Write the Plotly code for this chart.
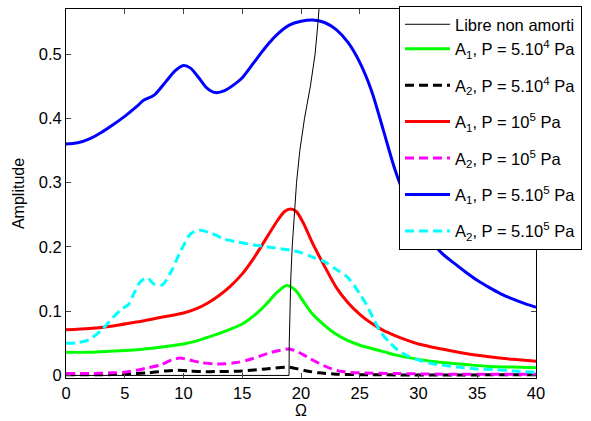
import plotly.graph_objects as go

# ---- data ----
# Libre non amorti (undamped backbone)
libre_omega = [0, 18.98, 19.0, 19.05, 19.13, 19.25, 19.42, 19.62, 19.9, 20.3, 20.8, 21.2, 21.45, 21.65]
libre_amp = [0, 0, 0.05, 0.1, 0.15, 0.2, 0.25, 0.3, 0.35, 0.4, 0.45, 0.5, 0.55, 0.6]

# A1, P = 5.10^4 Pa (green)
g_omega = [0, 2, 4, 6, 8, 10, 11, 12, 13, 14, 15, 16, 17, 18, 18.8, 19.5, 20.2, 21, 22, 23, 24, 25, 26, 27, 28, 30, 32, 34, 36, 38, 40]
g_amp = [0.036, 0.036, 0.038, 0.040, 0.044, 0.049, 0.053, 0.059, 0.065, 0.072, 0.080, 0.093, 0.110, 0.130, 0.140, 0.133, 0.115, 0.095, 0.078, 0.064, 0.054, 0.047, 0.042, 0.037, 0.032, 0.025, 0.020, 0.017, 0.014, 0.013, 0.012]

# A2, P = 5.10^4 Pa (black dashed)
k_omega = [0, 3, 5, 7, 8.5, 9.5, 10.5, 11.5, 13, 15, 17, 18.9, 19.5, 20.5, 21.5, 23, 26, 40]
k_amp = [0.001, 0.001, 0.002, 0.004, 0.007, 0.008, 0.007, 0.006, 0.006, 0.007, 0.010, 0.013, 0.011, 0.007, 0.004, 0.002, 0.001, 0.001]

# A1, P = 10^5 Pa (red)
r_omega = [0, 2, 4, 6, 8, 10, 11, 12, 13, 14, 15, 16, 17, 18, 18.6, 19.1, 19.6, 20.2, 21, 22, 23, 24, 25, 26, 27, 28, 29, 30, 32, 34, 36, 38, 40]
r_amp = [0.071, 0.073, 0.077, 0.083, 0.090, 0.097, 0.103, 0.112, 0.124, 0.139, 0.158, 0.183, 0.212, 0.241, 0.255, 0.259, 0.255, 0.237, 0.205, 0.170, 0.137, 0.113, 0.095, 0.081, 0.070, 0.062, 0.055, 0.049, 0.041, 0.034, 0.029, 0.025, 0.022]

# A2, P = 10^5 Pa (magenta dashed)
m_omega = [0, 2, 4, 5, 6, 7, 8, 9, 9.7, 10.5, 11.5, 12.5, 13.5, 14.5, 15.5, 16.5, 17.5, 18.5, 19, 19.7, 20.5, 21.5, 22.5, 23.5, 25, 28, 32, 40]
m_amp = [0.003, 0.003, 0.004, 0.005, 0.008, 0.012, 0.016, 0.024, 0.027, 0.024, 0.020, 0.018, 0.018, 0.020, 0.024, 0.030, 0.036, 0.040, 0.041, 0.037, 0.029, 0.019, 0.011, 0.006, 0.004, 0.003, 0.002, 0.002]

# A1, P = 5.10^5 Pa (blue)
b_omega = [0, 1, 2, 3, 4, 5, 6, 6.6, 7.5, 8.5, 9.3, 10, 10.6, 11.3, 12, 12.7, 13.5, 14.5, 15, 16, 17, 18, 19, 20, 21, 22, 23, 24, 25, 26, 27, 28, 29, 30, 31, 32, 33, 34, 35, 36, 37, 38, 39, 40]
b_amp = [0.360, 0.362, 0.368, 0.378, 0.390, 0.403, 0.418, 0.428, 0.436, 0.457, 0.474, 0.482, 0.478, 0.463, 0.447, 0.440, 0.443, 0.455, 0.463, 0.487, 0.511, 0.531, 0.545, 0.551, 0.553, 0.549, 0.538, 0.518, 0.487, 0.443, 0.382, 0.320, 0.272, 0.237, 0.210, 0.190, 0.175, 0.161, 0.148, 0.137, 0.127, 0.119, 0.112, 0.106]

# A2, P = 5.10^5 Pa (cyan dashed)
c_omega = [0, 1, 2, 3, 4, 4.8, 5.3, 5.8, 6.3, 6.9, 7.5, 8.2, 8.9, 9.7, 10.6, 11.4, 12.4, 13.5, 14.5, 16, 17.5, 19, 20, 21, 22, 23, 24, 25, 25.6, 26.2, 26.8, 27.5, 28.2, 29, 30, 31, 32, 33.3, 35, 36.5, 38, 40]
c_amp = [0.050, 0.051, 0.056, 0.070, 0.090, 0.104, 0.110, 0.128, 0.145, 0.152, 0.142, 0.141, 0.160, 0.191, 0.220, 0.226, 0.221, 0.212, 0.208, 0.203, 0.199, 0.195, 0.191, 0.184, 0.177, 0.165, 0.152, 0.127, 0.109, 0.087, 0.067, 0.052, 0.040, 0.031, 0.024, 0.019, 0.016, 0.013, 0.010, 0.009, 0.007, 0.005]

x_ticks = [0, 5, 10, 15, 20, 25, 30, 35, 40]
y_ticks = [0, 0.1, 0.2, 0.3, 0.4, 0.5]
y_tick_labels = ["0", "0.1", "0.2", "0.3", "0.4", "0.5"]

names = [
    "Libre non amorti",
    "A<sub>1</sub>, P = 5.10<sup>4</sup> Pa",
    "A<sub>2</sub>, P = 5.10<sup>4</sup> Pa",
    "A<sub>1</sub>, P = 10<sup>5</sup> Pa",
    "A<sub>2</sub>, P = 10<sup>5</sup> Pa",
    "A<sub>1</sub>, P = 5.10<sup>5</sup> Pa",
    "A<sub>2</sub>, P = 5.10<sup>5</sup> Pa",
]

DASH = "9px,5px"
FONT = "Liberation Sans, Arial, sans-serif"

fig = go.Figure()

def add(x, y, name, color, dash, rank, group, width=3, shape="spline"):
    fig.add_trace(go.Scatter(
        x=x, y=y, mode="lines", name=name, legendrank=rank, legendgroup=group,
        line=dict(color=color, width=width, dash=dash, shape=shape, smoothing=0.8 if shape == "spline" else None),
    ))

add(g_omega, g_amp, names[1], "#00ff00", "solid", 2, "g1")
add(k_omega, k_amp, names[2], "#000000", DASH, 3, "g3")
add(r_omega, r_amp, names[3], "#ff0000", "solid", 4, "g4")
add(m_omega, m_amp, names[4], "#ff00ff", DASH, 5, "g5")
add(b_omega, b_amp, names[5], "#0000ff", "solid", 6, "g6")
add(c_omega, c_amp, names[6], "#00ffff", DASH, 7, "g7")
add(libre_omega, libre_amp, names[0], "#000000", "solid", 1, "g1", width=1, shape="linear")

fig.update_layout(
    width=591, height=421,
    margin=dict(l=66, r=55, t=9, b=43, autoexpand=False),
    paper_bgcolor="white", plot_bgcolor="white",
    font=dict(family=FONT, size=16, color="black"),
    showlegend=True,
    legend=dict(
        x=0.7085, y=1.008, xanchor="left", yanchor="top",
        bgcolor="white", bordercolor="black", borderwidth=1,
        font=dict(family=FONT, size=16.5, color="black"),
        tracegroupgap=12, itemwidth=45, maxheight=400,
    ),
    xaxis=dict(
        range=[0, 40], tickvals=x_ticks, ticks="inside", ticklen=5,
        showline=True, linecolor="black", linewidth=1, mirror="ticks",
        showgrid=False, zeroline=False,
        title=dict(text="Ω", standoff=2, font=dict(size=16)),
        tickfont=dict(size=16.5),
    ),
    yaxis=dict(
        range=[-0.004, 0.570], tickvals=y_ticks, ticktext=y_tick_labels,
        ticks="inside", ticklen=5,
        showline=True, linecolor="black", linewidth=1, mirror="ticks",
        showgrid=False, zeroline=False,
        title=dict(text="Amplitude", standoff=10, font=dict(size=16)),
        tickfont=dict(size=16.5),
    ),
)

fig.write_html(
    "out.html",
    config={"displayModeBar": False},
    post_script="document.body.style.margin='0';document.body.style.padding='0';",
)
